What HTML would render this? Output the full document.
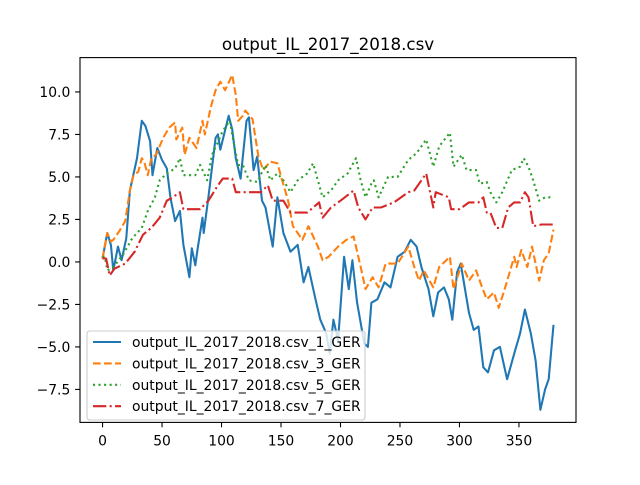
<!DOCTYPE html>
<html><head><meta charset="utf-8"><style>
body{margin:0;background:#fff}
svg text{font-family:"DejaVu Sans","Liberation Sans",sans-serif;fill:#000}
</style></head><body>
<svg id="chart" width="640" height="480" xmlns="http://www.w3.org/2000/svg">
<rect width="640" height="480" fill="#fff"/>
<text x="328" y="50" font-size="16.7" text-anchor="middle">output_IL_2017_2018.csv</text>
<defs><clipPath id="clip"><rect x="80" y="57.6" width="496" height="364.8"/></clipPath></defs>
<g id="series" clip-path="url(#clip)"></g>
<g id="axes"></g>
<g id="legend"></g>
</svg>
<script>
const xTicks=[0,50,100,150,200,250,300,350];
const yTicks=[-7.5,-5.0,-2.5,0.0,2.5,5.0,7.5,10.0];
const seriesNames=["output_IL_2017_2018.csv_1_GER","output_IL_2017_2018.csv_3_GER","output_IL_2017_2018.csv_5_GER","output_IL_2017_2018.csv_7_GER"];
const s1x=[0,4,7,9,13,16,20,23,29,33,36,40,42,46,50,54,57,61,65,68,73,75,78,80,84,85,89,95,97,99,106,109,112,116,121,123,127,130,134,137,143,147,152,158,164,169,173,179,183,188,191,194,198,203,207,210,214,220,223,226,231,237,242,248,254,259,264,268,274,278,282,287,291,294,298,301,308,312,316,320,324,329,334,340,346,351,355,360,364,368,372,375,379];
const s1y=[0.2,1.7,1.0,-0.5,0.9,0.1,1.4,4.2,6.1,8.3,8.0,7.1,5.1,6.7,6.0,5.5,3.8,2.4,3.0,1.0,-0.9,0.8,-0.2,0.8,2.6,1.7,3.8,7.3,7.5,6.6,8.6,7.8,6.1,4.9,8.3,8.5,5.4,6.2,3.6,3.2,0.9,3.8,1.7,0.6,1.0,-1.2,-0.3,-2.2,-3.4,-4.2,-5.4,-3.4,-4.6,0.3,-1.6,0.1,-2.4,-4.8,-5.0,-2.4,-2.2,-1.2,-1.5,0.3,0.6,1.3,0.9,-0.3,-1.6,-3.2,-1.8,-1.5,-2.2,-3.4,-0.6,-0.1,-3.0,-4.0,-3.8,-6.2,-6.5,-5.2,-5.0,-6.9,-5.4,-4.2,-2.8,-4.2,-5.8,-8.7,-7.5,-6.9,-3.7];
const s2x=[0,4,7,9,14,19,23,26,30,33,35,38,41,45,51,56,61,62,67,69,73,79,84,86,91,95,99,103,109,112,114,118,120,126,131,135,141,147,151,156,160,164,168,173,181,185,190,198,205,211,217,221,227,232,238,248,257,262,266,270,278,283,292,295,302,308,314,319,323,329,333,338,346,348,352,357,361,367,371,375,379];
const s2y=[0.2,1.7,1.2,1.3,1.8,2.4,4.2,5.1,5.3,6.1,5.9,5.1,6.1,6.3,7.3,7.9,8.2,7.2,7.9,6.3,7.3,6.7,8.3,7.5,9.1,10.1,10.6,10.1,11.0,9.8,8.3,8.6,8.9,8.4,6.2,5.4,5.9,5.8,4.8,3.6,2.1,1.7,1.3,2.1,0.9,0.1,0.3,0.9,1.3,1.5,-0.3,-1.6,-0.9,-1.5,-0.1,-0.1,0.9,-0.3,-1.1,-0.5,-1.5,-0.3,0.3,-1.6,-0.1,-1.1,-0.5,-1.5,-2.2,-1.8,-2.7,-1.6,0.3,-0.3,0.7,-0.3,0.9,-1.1,0.1,0.5,1.9];
const s3x=[0,2,4,9,17,25,33,38,44,48,54,61,65,68,78,82,84,88,92,96,101,107,110,114,118,123,130,137,141,147,152,158,164,172,177,185,192,198,206,213,217,221,226,228,232,240,248,257,264,272,278,283,292,295,302,306,314,317,323,326,331,336,344,351,354,358,362,367,372,379];
const s3y=[0.3,0.3,-0.5,-0.3,0.4,1.4,2.0,3.0,3.8,4.8,5.2,5.5,6.1,5.1,5.1,5.7,5.4,4.8,6.3,6.9,7.7,8.3,7.1,5.7,5.7,4.8,4.7,5.7,4.8,5.2,4.8,4.1,4.8,5.2,5.8,3.8,4.2,4.8,5.2,6.1,4.8,3.8,4.6,4.8,3.8,5.0,5.0,6.0,6.4,7.2,5.6,6.8,7.6,5.6,6.3,5.4,5.4,4.6,4.7,4.1,3.5,4.1,5.4,5.6,6.1,5.6,4.8,3.6,3.8,3.8];
const s4x=[0,3,6,10,19,27,34,41,48,54,59,65,68,82,89,96,101,109,112,123,133,139,143,152,158,172,182,185,192,200,211,215,221,227,234,245,257,262,272,278,280,291,293,300,308,316,320,323,326,331,336,341,346,351,355,358,362,369,379];
const s4y=[0.2,0.2,-0.8,-0.4,-0.1,0.6,1.6,2.0,2.6,3.6,3.8,4.1,3.1,3.1,3.6,4.4,4.9,4.9,4.1,4.1,4.1,4.5,3.6,3.6,2.9,2.9,3.5,2.6,3.2,3.6,4.2,3.2,2.5,3.2,3.2,3.5,4.1,4.2,5.2,3.2,4.1,3.8,3.1,3.1,3.5,3.5,3.8,2.9,2.9,2.0,2.0,3.2,3.5,3.5,4.1,3.8,2.1,2.2,2.2];

const L=80,R=576,T=57.6,B=422.4,XMIN=-18.95,XMAX=397.95,YMIN=-9.44,YMAX=12.02;
const sx=v=>L+(v-XMIN)/(XMAX-XMIN)*(R-L);
const sy=v=>B-(v-YMIN)/(YMAX-YMIN)*(B-T);
const NS="http://www.w3.org/2000/svg";
const mk=(t,a,p)=>{const e=document.createElementNS(NS,t);for(const k in a)e.setAttribute(k,a[k]);p.appendChild(e);return e;};
const colors=["#1f77b4","#ff7f0e","#2ca02c","#d62728"];
const dashes=["none","7.7,3.33","2.08,3.44","13.3,3.33,2.08,3.33"];
const allX=[s1x,s2x,s3x,s4x],allY=[s1y,s2y,s3y,s4y];
const sg=document.getElementById('series');
allX.forEach((xs,i)=>{
  const pts=xs.map((x,j)=>sx(x).toFixed(1)+","+sy(allY[i][j]).toFixed(1)).join(" ");
  const pl=mk('polyline',{points:pts,fill:"none",stroke:colors[i],"stroke-width":2.08,"stroke-dasharray":dashes[i],"stroke-linejoin":"round"},sg);
  
  
});
const ax=document.getElementById('axes');
const frame=mk('rect',{x:L,y:T,width:R-L,height:B-T,fill:"none",stroke:"#000","stroke-width":1.1},ax);


xTicks.forEach(v=>{
  const x=sx(v);
  mk('line',{x1:x,x2:x,y1:B,y2:B+4.9,stroke:"#000","stroke-width":1.1},ax);
  const t=mk('text',{x:x,y:B+23,"font-size":13.9,"text-anchor":"middle"},ax);
  t.textContent=v;
  
  
});
yTicks.forEach(v=>{
  const y=sy(v);
  mk('line',{x1:L-4.9,x2:L,y1:y,y2:y,stroke:"#000","stroke-width":1.1},ax);
  const t=mk('text',{x:L-9.7,y:y+5,"font-size":13.9,"text-anchor":"end"},ax);
  t.textContent=v.toFixed(1).replace('-','\u2212');
  
  
});
const lg=document.getElementById('legend');
const box=mk('rect',{x:87,y:331,width:278,height:89,rx:2.8,fill:"#fff","fill-opacity":0.8,stroke:"#ccc","stroke-width":1.1},lg);


seriesNames.forEach((n,i)=>{
  const y=342+i*21.4;
  mk('line',{x1:93,x2:121,y1:y,y2:y,stroke:colors[i],"stroke-width":2.08,"stroke-dasharray":dashes[i]},lg);
  const t=mk('text',{x:132,y:y+5,"font-size":13.9},lg);
  t.textContent=n;
  
  
});
</script>
</body></html>
